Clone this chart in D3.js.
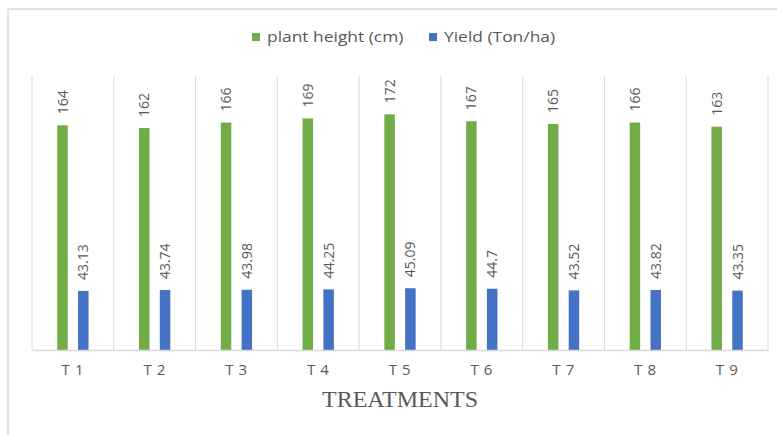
<!DOCTYPE html>
<html>
<head>
<meta charset="utf-8">
<script src="https://cdn.jsdelivr.net/npm/d3@7/dist/d3.min.js"></script>
<style>
  html, body { margin: 0; padding: 0; background: #fff; }
  svg { display: block; }
</style>
</head>
<body>
<svg id="chart" width="777" height="435"></svg>
<script>
// Treatments and measured values
const categories = ["T 1", "T 2", "T 3", "T 4", "T 5", "T 6", "T 7", "T 8", "T 9"];
const plantHeight = [164, 162, 166, 169, 172, 167, 165, 166, 163];
const yieldValues = [43.13, 43.74, 43.98, 44.25, 45.09, 44.7, 43.52, 43.82, 43.35];
const yieldLabels = ["43.13", "43.74", "43.98", "44.25", "45.09", "44.7", "43.52", "43.82", "43.35"];
const seriesNames = ["plant height (cm)", "Yield (Ton/ha)"];
const seriesColors = ["#70AD47", "#4472C4"];
const yDomain = [0, 200];

const svg = d3.select("#chart");
const W = 777, H = 435;
const plot = { left: 32, right: 768, top: 76, bottom: 350 };
const textColor = "#595959";
const lineColor = "#D9D9D9";

// Outer chart frame (top and left edges)
svg.append("line").attr("x1", 8).attr("x2", W).attr("y1", 9).attr("y2", 9)
  .attr("stroke", lineColor).attr("stroke-width", 1.5);
svg.append("line").attr("x1", 8).attr("x2", 8).attr("y1", 9).attr("y2", H)
  .attr("stroke", lineColor).attr("stroke-width", 1.5);

const x = d3.scaleBand().domain(categories).range([plot.left, plot.right]).padding(0);
const y = d3.scaleLinear().domain(yDomain).range([plot.bottom, plot.top]);

// Vertical category separators
const bounds = categories.map(c => x(c)).concat([plot.right]);
svg.append("g").selectAll("line").data(bounds).join("line")
  .attr("x1", d => d).attr("x2", d => d)
  .attr("y1", plot.top).attr("y2", plot.bottom)
  .attr("stroke", lineColor).attr("stroke-width", 1);

// Bars
const barW = 10.5, offset = 10.4;
const series = [
  { values: plantHeight, labels: plantHeight.map(String), color: seriesColors[0], dx: -offset },
  { values: yieldValues, labels: yieldLabels, color: seriesColors[1], dx: offset }
];

series.forEach(s => {
  const g = svg.append("g");
  g.selectAll("rect").data(categories).join("rect")
    .attr("x", (c) => x(c) + x.bandwidth() / 2 + s.dx - barW / 2)
    .attr("y", (c, i) => y(s.values[i]))
    .attr("width", barW)
    .attr("height", (c, i) => y(0) - y(s.values[i]))
    .attr("fill", s.color);
  g.selectAll("text").data(categories).join("text")
    .attr("transform", (c, i) => {
      const cx = x(c) + x.bandwidth() / 2 + s.dx;
      return `translate(${cx},${y(s.values[i]) - 11}) rotate(-90)`;
    })
    .attr("dy", "0.36em")
    .attr("text-anchor", "start")
    .attr("font-family", "'Open Sans', sans-serif")
    .attr("font-size", 14)
    .attr("fill", textColor)
    .text((c, i) => s.labels[i]);
});

// Baseline and category axis
const xAxis = d3.axisBottom(x).tickSize(0).tickPadding(14);
const ax = svg.append("g").attr("transform", `translate(0,${plot.bottom})`).call(xAxis);
ax.select(".domain").attr("stroke", lineColor).attr("stroke-width", 1.5);
ax.selectAll("text")
  .attr("font-family", "'Open Sans', sans-serif")
  .attr("font-size", 15)
  .attr("letter-spacing", 0.6)
  .attr("fill", textColor);

// Axis title
svg.append("text")
  .attr("x", 400).attr("y", 407)
  .attr("text-anchor", "middle")
  .attr("font-family", "'Liberation Serif', 'Times New Roman', serif")
  .attr("font-size", 24)
  .attr("fill", textColor)
  .text("TREATMENTS");

// Legend
const legendItems = [
  { name: seriesNames[0], color: seriesColors[0], x: 252 },
  { name: seriesNames[1], color: seriesColors[1], x: 429 }
];
const lg = svg.append("g");
legendItems.forEach(item => {
  lg.append("rect").attr("x", item.x).attr("y", 33).attr("width", 8).attr("height", 8)
    .attr("fill", item.color);
  lg.append("text")
    .attr("transform", `translate(${item.x + 15},37) scale(1.16,1)`)
    .attr("dy", "0.36em")
    .attr("font-family", "'Open Sans', sans-serif")
    .attr("font-size", 15)
    .attr("fill", textColor)
    .text(item.name);
});
</script>
</body>
</html>
